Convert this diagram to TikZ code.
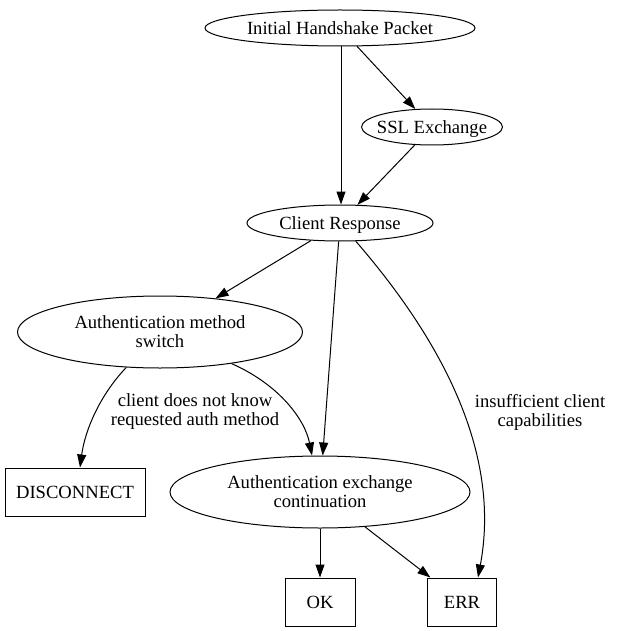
\documentclass[tikz,border=0pt]{standalone}
\usepackage{fontspec}
\setmainfont{Liberation Serif}
\usetikzlibrary{shapes.geometric,arrows.meta}
\newcommand{\ctxt}[1]{\makebox[0pt]{\smash{\raisebox{-7pt}{\begin{tabular}{@{}c@{}}#1\end{tabular}}}}}
\tikzset{
  st/.style={draw,ellipse,inner sep=0pt},
  box/.style={draw,rectangle,inner sep=0pt,minimum height=48pt},
  ed/.style={-{Triangle[length=13pt,width=9pt]},line join=round},
}
\begin{document}
\begin{tikzpicture}[x=1pt,y=-1pt,line width=1pt,font=\fontsize{18.6pt}{19pt}\selectfont]
            \useasboundingbox (0,0) rectangle (617,631);
            \node[st,minimum width=270pt,minimum height=36pt] (ihp) at (340,28) {\ctxt{Initial Handshake Packet}};
            \node[st,minimum width=141pt,minimum height=36pt] (ssl) at (432,127) {\ctxt{SSL Exchange}};
            \node[st,minimum width=186pt,minimum height=36pt] (cr) at (340,223) {\ctxt{Client Response}};
            \node[st,minimum width=285pt,minimum height=72pt] (ams) at (160,332) {\ctxt{Authentication method\\switch}};
            \node[st,minimum width=300pt,minimum height=72pt] (aec) at (320,492) {\ctxt{Authentication exchange\\continuation}};
            \node[box,minimum width=140pt] (disc) at (75,492) {DISCONNECT};
            \node[box,minimum width=70pt] (ok) at (320,602) {OK};
            \node[box,minimum width=69pt] (err) at (462,602) {ERR};
            \node[align=center] (lbl1) at (195,412) {client does not know\\requested auth method};
            \node[align=center] (lbl2) at (540,412) {insufficient client\\capabilities};
            % edges
            \draw[ed] (ihp.south) ++(1,0) coordinate (a1) -- (a1 |- cr.north);
            \draw[ed] (ihp) -- (ssl);
            \draw[ed] (ssl) -- (cr);
            \draw[ed] (cr) -- (ams);
            \draw[ed] (cr) -- (aec);
            \draw[ed] (cr) .. controls (450,350) and (500,460) .. ([xshift=16pt]err.north);
            \draw[ed] (ams) .. controls (100,395) and (85,430) .. ([xshift=5pt]disc.north);
            \draw[ed] (ams) .. controls (280,385) and (305,420) .. ([xshift=-8pt]aec.north);
            \draw[ed] (aec) -- (ok);
            \draw[ed] (aec) -- (err);
\end{tikzpicture}
\end{document}
